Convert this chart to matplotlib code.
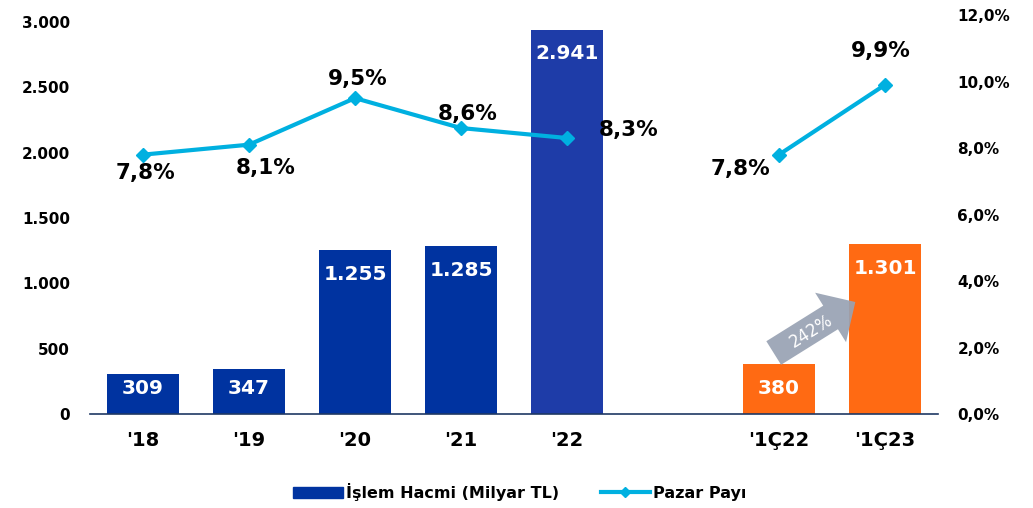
import matplotlib
matplotlib.use("Agg")
import matplotlib.pyplot as plt
from matplotlib.ticker import FuncFormatter
from matplotlib.lines import Line2D
from matplotlib.patches import Patch

plt.rcParams['font.family'] = ['DejaVu Sans']

categories = ["'18", "'19", "'20", "'21", "'22", "'1Ç22", "'1Ç23"]
positions = [0, 1, 2, 3, 4, 6, 7]
volume = [309, 347, 1255, 1285, 2941, 380, 1301]
volume_labels = ["309", "347", "1.255", "1.285", "2.941", "380", "1.301"]
share = [7.8, 8.1, 9.5, 8.6, 8.3, 7.8, 9.9]
share_labels = ["7,8%", "8,1%", "9,5%", "8,6%", "8,3%", "7,8%", "9,9%"]
bar_colors = ["#0033A0", "#0033A0", "#0033A0", "#0033A0", "#1E3CA8", "#FF6A13", "#FF6A13"]
growth_label = "242%"

W, H = 1033, 508
fig = plt.figure(figsize=(W / 100, H / 100), dpi=100)
ax = fig.add_axes([90 / W, 1 - 414 / H, (938 - 90) / W, (414 - 15) / H])
ax2 = ax.twinx()
upx = 3000 / 392  # data units per pixel on left axis

ax.bar(positions, volume, width=0.67, color=bar_colors, zorder=2)
ax.set_xlim(-0.5, 7.5)
ax.set_ylim(0, 3000 * 399 / 392)
ax.set_yticks([0, 500, 1000, 1500, 2000, 2500, 3000])
ax.yaxis.set_major_formatter(FuncFormatter(lambda v, p: f"{int(v):,}".replace(",", ".")))
ax.set_xticks(positions)
ax.set_xticklabels(categories, fontsize=14, fontweight='bold')
for s in ['top', 'right', 'left']:
    ax.spines[s].set_visible(False)
ax.spines['bottom'].set_color('#1F3864')
ax.spines['bottom'].set_linewidth(1.2)
ax.tick_params(axis='y', length=0, labelsize=11, pad=14.5)
ax.tick_params(axis='x', length=0, pad=12)
for lbl in ax.get_yticklabels():
    lbl.set_fontweight('bold')

for x, v, t in zip(positions, volume, volume_labels):
    y = max(v - 24 * upx, 25 * upx)
    ax.text(x, y, t, ha='center', va='center', color='white',
            fontsize=14.5, fontweight='bold', zorder=4)

# market share line (two segments)
line_kw = dict(color='#00B0E0', lw=3, marker='D', markersize=7, zorder=5)
ax2.plot(positions[:5], share[:5], **line_kw)
ax2.plot(positions[5:], share[5:], **line_kw)
ax2.set_ylim(0, 12)
ax2.set_yticks([0, 2, 4, 6, 8, 10, 12])
ax2.yaxis.set_major_formatter(FuncFormatter(lambda v, p: f"{v:.1f}%".replace(".", ",")))
ax2.tick_params(axis='y', length=0, labelsize=11, pad=14)
for lbl in ax2.get_yticklabels():
    lbl.set_fontweight('bold')
for s in ['top', 'right', 'left', 'bottom']:
    ax2.spines[s].set_visible(False)

offsets = [(2, -13), (12, -16.5), (2, 14), (5, 10), (44.5, 6), (-27.5, -10), (-3, 24)]
for x, v, t, (dx, dy) in zip(positions, share, share_labels, offsets):
    ax2.annotate(t, (x, v), xytext=(dx, dy), textcoords='offset points',
                 ha='center', va='center', fontsize=15.5, fontweight='bold',
                 color='black', zorder=6)

# growth arrow
ax.annotate('', xy=(6.72, (414 - 302) * upx), xytext=(5.95, (414 - 353) * upx),
            arrowprops=dict(arrowstyle='simple,head_length=1.05,head_width=2.1,tail_width=1.0',
                            color='#98A2B3', alpha=0.92, lw=0, mutation_scale=20,
                            shrinkA=0, shrinkB=0),
            zorder=3)
ax.text(6.30, (414 - 331) * upx, growth_label, rotation=32, ha='center', va='center',
        color='white', fontsize=12, zorder=4)

handles = [Patch(color='#0033A0', label='İşlem Hacmi (Milyar TL)'),
           Line2D([0], [0], color='#00B0E0', lw=3, marker='D', markersize=5, label='Pazar Payı')]
fig.legend(handles=handles, loc='center', bbox_to_anchor=(520 / W, 1 - 492 / H), ncol=2,
           frameon=False, prop={'weight': 'bold', 'size': 11.5}, handlelength=3.1,
           handleheight=0.7, columnspacing=2.6, handletextpad=0.2)

fig.savefig('out.png', dpi=100)
